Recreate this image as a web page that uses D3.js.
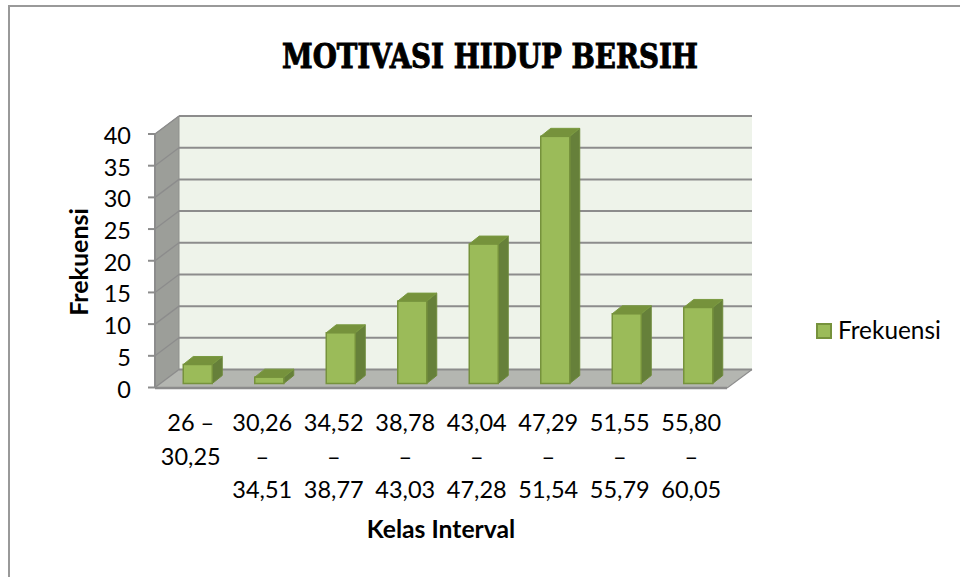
<!DOCTYPE html>
<html><head><meta charset="utf-8">
<script src="https://cdn.jsdelivr.net/npm/d3@7"></script>
<style>html,body{margin:0;padding:0;background:#fff;overflow:hidden}svg{display:block}text{font-family:Lato,"Open Sans",sans-serif;fill:#000}</style>
</head><body><svg id="c" width="960" height="577"></svg>
<script>
const title = "MOTIVASI HIDUP BERSIH";
const yTitle = "Frekuensi";
const xTitle = "Kelas Interval";
const legendLabel = "Frekuensi";
const categories = ["26 – 30,25","30,26 – 34,51","34,52 – 38,77","38,78 – 43,03","43,04 – 47,28","47,29 – 51,54","51,55 – 55,79","55,80 – 60,05"];
const tickLines = [["26 –","30,25"],["30,26","–","34,51"],["34,52","–","38,77"],["38,78","–","43,03"],["43,04","–","47,28"],["47,29","–","51,54"],["51,55","–","55,79"],["55,80","–","60,05"]];
const values = [3,1,8,13,22,39,11,12];
const yTicks = [0,5,10,15,20,25,30,35,40];

const svg = d3.select("#c");
const depthX = 24, depthY = 18;
const x = d3.scaleBand().domain(categories).range([155,727]);
const y = d3.scaleLinear().domain([0,40]).range([387.5,134]);
const barW = 29, barDX = 10, barDY = 8, barBase = 4, barShift = 7;

// frame
svg.append("path").attr("d","M9,577V6H960").attr("fill","none").attr("stroke","#999").attr("stroke-width",2);

// title
svg.append("text").attr("x",490).attr("y",68).attr("text-anchor","middle")
  .attr("textLength",416).attr("lengthAdjust","spacingAndGlyphs")
  .style("font-family","'DejaVu Serif',serif").style("font-weight",700).style("font-size","33px")
  .attr("stroke","#000").attr("stroke-width",1).text(title);

const [x0,x1] = x.range();
// back wall
svg.append("rect").attr("x",x0+depthX).attr("y",y(40)-depthY).attr("width",x1+25-x0-depthX).attr("height",y(0)-y(40))
  .attr("fill","#eef3ea");
// side wall
svg.append("polygon").attr("points",[[x0,y(0)],[x0+depthX,y(0)-depthY],[x0+depthX,y(40)-depthY],[x0,y(40)]].join(" "))
  .attr("fill","#9c9e99").attr("stroke","#8f918c").attr("stroke-width",1);
// floor
svg.append("polygon").attr("points",[[x0,y(0)],[x0+depthX,y(0)-depthY],[x1+25,y(0)-depthY],[x1,y(0)]].join(" "))
  .attr("fill","#b4b6b1");

// gridlines
yTicks.forEach(t=>{
  const g = svg.append("g").attr("fill","none").attr("stroke","#8c8c8c").attr("stroke-width",2);
  g.append("line").attr("x1",x0+depthX).attr("x2",x1+25).attr("y1",y(t)-depthY).attr("y2",y(t)-depthY);
  g.append("line").attr("x1",x0).attr("x2",x0+depthX).attr("y1",y(t)).attr("y2",y(t)-depthY).attr("stroke-width",1.4);
});
// axes
svg.append("line").attr("x1",x0).attr("x2",x0).attr("y1",y(0)).attr("y2",y(40)).attr("stroke","#8c8c8c").attr("stroke-width",2);
svg.append("line").attr("x1",x0).attr("x2",x1).attr("y1",y(0)+.5).attr("y2",y(0)+.5).attr("stroke","#8c8c8c").attr("stroke-width",2.5);
svg.append("line").attr("x1",x1).attr("x2",x1+25).attr("y1",y(0)+.5).attr("y2",y(0)-depthY).attr("stroke","#8c8c8c").attr("stroke-width",1.2);
yTicks.forEach(t=>{
  svg.append("line").attr("x1",x0-7).attr("x2",x0).attr("y1",y(t)).attr("y2",y(t)).attr("stroke","#8c8c8c").attr("stroke-width",2);
  svg.append("text").attr("x",x0-24).attr("y",y(t)+10).attr("text-anchor","end").style("font-size","23.5px").text(t);
});

// bars
const edge = "#76923c";
const bars = svg.selectAll("g.bar").data(values).join("g").attr("class","bar");
bars.each(function(v,i){
  const g = d3.select(this);
  const bx = x(categories[i]) + x.bandwidth()/2 + barShift - barW/2;
  const by0 = y(0) - barBase, by1 = y(v) - barBase;
  g.append("polygon").attr("points",[[bx+barW,by0],[bx+barW+barDX,by0-barDY],[bx+barW+barDX,by1-barDY],[bx+barW,by1]].join(" "))
    .attr("fill","#66803a").attr("stroke","#6f8b3c");
  g.append("polygon").attr("points",[[bx,by1],[bx+barDX,by1-barDY],[bx+barW+barDX,by1-barDY],[bx+barW,by1]].join(" "))
    .attr("fill","#76923c").attr("stroke","#7a9a40");
  g.append("rect").attr("x",bx).attr("y",by1).attr("width",barW).attr("height",by0-by1)
    .attr("fill","#9bbb59").attr("stroke",edge).attr("stroke-width",1.5);
});

// category labels
tickLines.forEach((lines,i)=>{
  const cx = x(categories[i]) + x.bandwidth()/2;
  lines.forEach((s,j)=>{
    svg.append("text").attr("x",cx).attr("y",431+j*33.5).attr("text-anchor","middle").style("font-size","23.5px").text(s);
  });
});

// axis titles
svg.append("text").attr("transform","translate(88,262) rotate(-90)").attr("text-anchor","middle").style("font-size","25px").style("font-weight",700).text(yTitle);
svg.append("text").attr("x",441).attr("y",538).attr("text-anchor","middle").style("font-size","24.7px").style("font-weight",700).text(xTitle);

// legend
svg.append("rect").attr("x",817).attr("y",324).attr("width",14).attr("height",14).attr("fill","#9bbb59").attr("stroke",edge).attr("stroke-width",2);
svg.append("text").attr("x",838).attr("y",339).style("font-size","24.4px").text(legendLabel);
</script></body></html>
